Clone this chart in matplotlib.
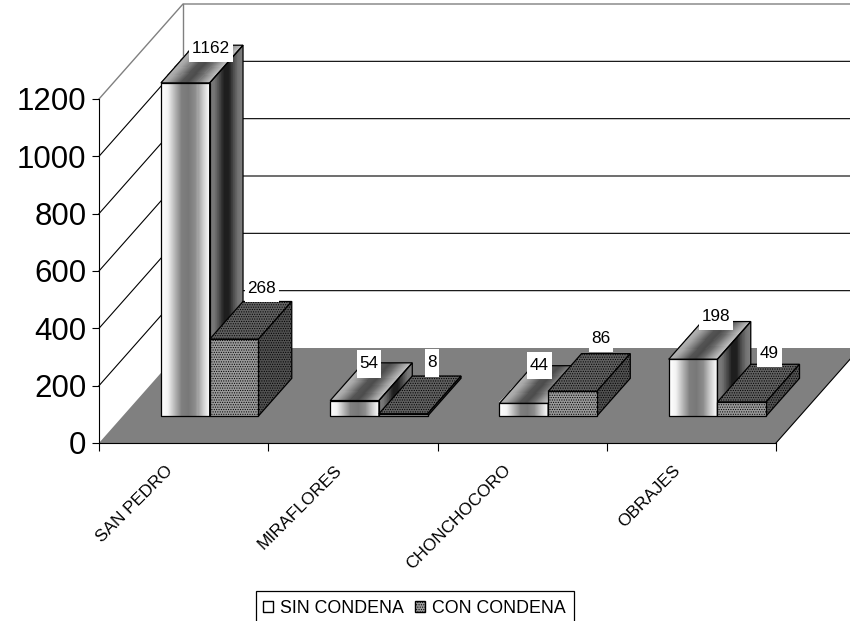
import numpy as np
from matplotlib import pyplot
from matplotlib.patches import Patch, Polygon, Rectangle

pyplot.rcParams['font.family'] = ['Liberation Sans', 'DejaVu Sans']
pyplot.rcParams['hatch.linewidth'] = 0.5
pyplot.rcParams['text.kerning_factor'] = 6

categories = ['SAN PEDRO', 'MIRAFLORES', 'CHONCHOCORO', 'OBRAJES']
sin_condena = [1162, 54, 44, 198]
con_condena = [268, 8, 86, 49]
y_ticks = [0, 200, 400, 600, 800, 1000, 1200]
grid_values = [200, 400, 600, 800, 1000]

# label shift from the middle of the bar top, in pixels (x, up)
sin_shift = [(9, 16), (-2, 18), (-1, 19), (6, 24)]
con_shift = [(11, 32), (12, 32), (12, 34), (11, 30)]

# oblique projection of the depth axis
DEPTH_X = 84 / 169.25
DEPTH_Y = 95 / (344 / 1200)
BAR_START = 0.225
BAR_W = 0.288
D_FRONT = 0.284
D_BACK = 0.681

sin_front = [1, 0.95, 0.72, 0.5, 0.47, 0.55, 0.8, 1]
sin_top = [0.72, 0.65, 0.5, 0.33, 0.3, 0.42, 0.6, 0.75]
sin_side = [0.5, 0.45, 0.3, 0.12, 0.12, 0.3, 0.45, 0.5]


def proj(x, v, d):
    return x + DEPTH_X * d, v + DEPTH_Y * d


def gradient_face(ax, p0, p1, p2, p3, ramp, zorder):
    # p0-p1 bottom edge, p3-p2 top edge, shade runs from p0 to p1
    s = np.linspace(0, 1, len(ramp) * 6 + 1)
    t = np.array([0, 1])
    X = np.zeros((2, len(s)))
    Y = np.zeros((2, len(s)))
    for j, tt in enumerate(t):
        X[j] = (1 - s) * ((1 - tt) * p0[0] + tt * p3[0]) + s * ((1 - tt) * p1[0] + tt * p2[0])
        Y[j] = (1 - s) * ((1 - tt) * p0[1] + tt * p3[1]) + s * ((1 - tt) * p1[1] + tt * p2[1])
    mid = (s[:-1] + s[1:]) / 2
    shades = np.interp(mid, np.linspace(0, 1, len(ramp)), ramp).reshape(1, -1)
    mesh = ax.pcolormesh(X, Y, shades, cmap='gray', vmin=0, vmax=1, shading='flat',
                         antialiased=False, zorder=zorder, clip_on=False)
    ax.add_patch(Polygon([p0, p1, p2, p3], closed=True, fill=False, edgecolor='black',
                         linewidth=0.9, zorder=zorder + 0.1, clip_on=False))
    return mesh


def dotted_face(ax, pts, color, zorder):
    ax.add_patch(Polygon(pts, closed=True, facecolor=color, edgecolor='black', hatch='.......',
                         linewidth=0.9, zorder=zorder, clip_on=False))


def draw_sin(ax, x, v, zorder):
    x2 = x + BAR_W
    gradient_face(ax, proj(x, v, D_FRONT), proj(x2, v, D_FRONT), proj(x2, v, D_BACK), proj(x, v, D_BACK), sin_top, zorder)
    gradient_face(ax, proj(x2, 0, D_FRONT), proj(x2, 0, D_BACK), proj(x2, v, D_BACK), proj(x2, v, D_FRONT), sin_side, zorder)
    gradient_face(ax, proj(x, 0, D_FRONT), proj(x2, 0, D_FRONT), proj(x2, v, D_FRONT), proj(x, v, D_FRONT), sin_front, zorder)


def draw_con(ax, x, v, zorder):
    x2 = x + BAR_W
    dotted_face(ax, [proj(x, v, D_FRONT), proj(x2, v, D_FRONT), proj(x2, v, D_BACK), proj(x, v, D_BACK)], '#606060', zorder)
    dotted_face(ax, [proj(x2, 0, D_FRONT), proj(x2, 0, D_BACK), proj(x2, v, D_BACK), proj(x2, v, D_FRONT)], '#505050', zorder)
    dotted_face(ax, [proj(x, 0, D_FRONT), proj(x2, 0, D_FRONT), proj(x2, v, D_FRONT), proj(x, v, D_FRONT)], '#9a9a9a', zorder)


fig = pyplot.figure(figsize=(8.5, 6.21), dpi=100)
ax = fig.add_axes([99 / 850, (621 - 443) / 621, 677 / 850, 344 / 621])

# back wall
for v in grid_values:
    xs, ys = zip(proj(0, v, 0), proj(0, v, 1), proj(5, v, 1))
    ax.plot(xs, ys, color='black', linewidth=0.8, zorder=1, clip_on=False)
xs, ys = zip(proj(0, 1200, 0), proj(0, 1200, 1), proj(5, 1200, 1))
ax.plot(xs, ys, color='#808080', linewidth=1, zorder=1, clip_on=False)
xs, ys = zip(proj(0, 1200, 1), proj(0, 0, 1))
ax.plot(xs, ys, color='#808080', linewidth=1, zorder=1, clip_on=False)

# floor
ax.add_patch(Polygon([proj(0, 0, 0), proj(4, 0, 0), proj(4, 0, 1), proj(0, 0, 1)], closed=True,
                     facecolor='#808080', edgecolor='none', zorder=2, clip_on=False))
xs, ys = zip(proj(4, 0, 0), proj(4, 0, 1))
ax.plot(xs, ys, color='black', linewidth=0.8, zorder=2.1, clip_on=False)

z = 3
for i in range(len(categories)):
    draw_sin(ax, i + BAR_START, sin_condena[i], z)
    draw_con(ax, i + BAR_START + BAR_W, con_condena[i], z + 1)
    z += 2

for i in range(len(categories)):
    for v, x, shift in [(sin_condena[i], i + BAR_START, sin_shift[i]),
                        (con_condena[i], i + BAR_START + BAR_W, con_shift[i])]:
        px, py = proj(x + BAR_W / 2, v, (D_FRONT + D_BACK) / 2)
        ax.annotate(str(v), (px, py), xytext=shift, textcoords='offset pixels', ha='center', va='center',
                    fontsize=12.3, zorder=30, annotation_clip=False,
                    bbox=dict(boxstyle='square,pad=0.15', facecolor='white', edgecolor='none', mutation_aspect=2.5))

ax.set_xlim(0, 4)
ax.set_ylim(0, 1200)
ax.spines['top'].set_visible(False)
ax.spines['right'].set_visible(False)
ax.spines['left'].set_zorder(2.5)
ax.spines['bottom'].set_zorder(2.5)
ax.set_yticks(y_ticks)
ax.tick_params(axis='y', labelsize=22.5, length=5, pad=4)
ax.set_xticks(range(len(categories) + 1))
ax.set_xticklabels([])
ax.tick_params(axis='x', which='major', length=6)
ax.set_xticks(np.arange(len(categories)) + 0.39, minor=True)
ax.set_xticklabels(categories, minor=True, rotation=45, ha='right', va='top', rotation_mode='anchor', fontsize=12.4)
ax.tick_params(axis='x', which='minor', length=0, pad=14)

# legend frame runs past the bottom of the picture
fig.add_artist(Rectangle((256 / 850, -10 / 621), 318 / 850, 40 / 621, transform=fig.transFigure,
                         facecolor='white', edgecolor='black', linewidth=0.9))
handles = [Patch(facecolor='white', edgecolor='black', label='SIN CONDENA'),
           Patch(facecolor='#9a9a9a', edgecolor='black', hatch='.......', label='CON CONDENA')]
fig.legend(handles=handles, loc='upper left', bbox_to_anchor=(263 / 850, 21 / 621), ncol=2, fontsize=12.8,
           frameon=False, handlelength=0.56, handleheight=0.56,
           handletextpad=0.4, columnspacing=0.62, borderpad=0, borderaxespad=0)

pyplot.savefig('out.png')
